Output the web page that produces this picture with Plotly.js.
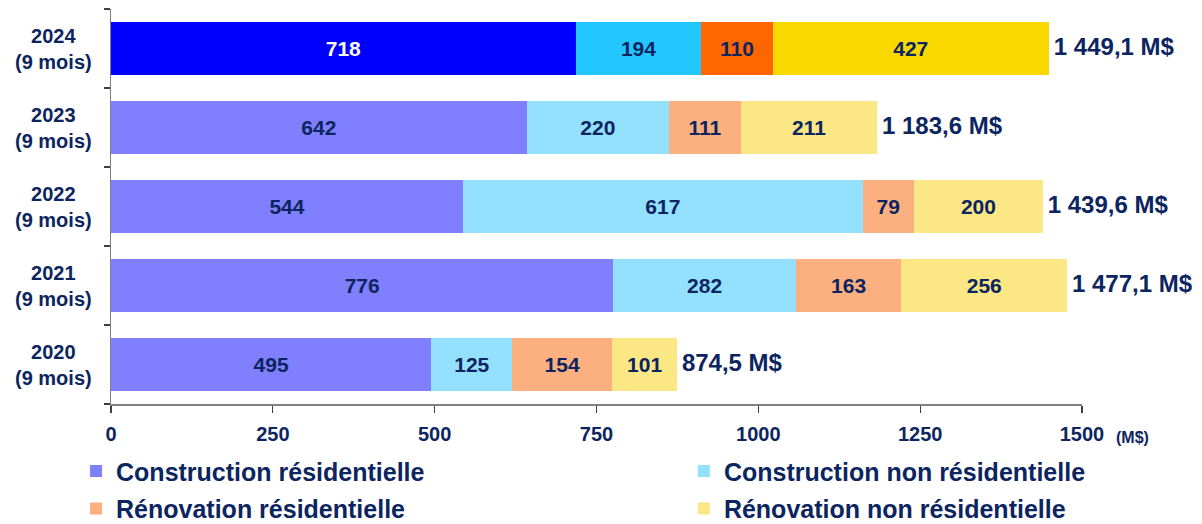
<!DOCTYPE html>
<html>
<head>
<meta charset="utf-8">
<script src="https://cdn.plot.ly/plotly-3.0.1.min.js"></script>
<style>html,body{margin:0;padding:0;background:#fff;}#chart{width:1202px;height:524px;}</style>
</head>
<body>
<div id="chart"></div>
<script>
const years = ['2020', '2021', '2022', '2023', '2024'];
const yearLabels = ['2020<br>(9 mois)', '2021<br>(9 mois)', '2022<br>(9 mois)', '2023<br>(9 mois)', '2024<br>(9 mois)'];
const constructionResidentielle = [495, 776, 544, 642, 718];
const constructionNonResidentielle = [125, 282, 617, 220, 194];
const renovationResidentielle = [154, 163, 79, 111, 110];
const renovationNonResidentielle = [101, 256, 200, 211, 427];
const totals = [874.5, 1477.1, 1439.6, 1183.6, 1449.1];
const seriesNames = ['Construction résidentielle', 'Construction non résidentielle', 'Rénovation résidentielle', 'Rénovation non résidentielle'];
const xTicks = [0, 250, 500, 750, 1000, 1250, 1500];

const NAVY = '#0C2560';
const FONT = 'Liberation Sans, Arial, sans-serif';
const lightColors = ['#8080FF', '#93E0FF', '#FDB07F', '#FBE884'];
const brightColors = ['#0000FF', '#22C7FF', '#FF6600', '#F9D800'];
const seriesValues = [constructionResidentielle, constructionNonResidentielle, renovationResidentielle, renovationNonResidentielle];

function fmtTotal(v) {
  const parts = v.toFixed(1).split('.');
  const intPart = parts[0].replace(/\B(?=(\d{3})+(?!\d))/g, ' ');
  return '\u2009' + intPart + ',' + parts[1] + ' M$';
}

const traces = seriesValues.map((vals, i) => ({
  type: 'bar',
  orientation: 'h',
  name: seriesNames[i],
  legendgroup: 'g' + i,
  y: years,
  x: vals,
  text: vals.map(String),
  textposition: 'inside',
  insidetextanchor: 'middle',
  textangle: 0,
  constraintext: 'none',
  hoverinfo: 'x+name',
  textfont: {
    family: FONT, size: 21, weight: 'bold',
    color: years.map((y, k) => (i === 0 && k === years.length - 1) ? '#FFFFFF' : NAVY)
  },
  marker: {
    color: years.map((y, k) => k === years.length - 1 ? brightColors[i] : lightColors[i]),
    line: {width: 0}
  },
  legend: (i % 2 === 0) ? 'legend' : 'legend2'
}));

traces.push({
  type: 'scatter',
  mode: 'text',
  y: years,
  x: totals,
  text: totals.map(fmtTotal),
  textposition: 'middle right',
  textfont: {family: FONT, size: 24, weight: 'bold', color: NAVY},
  showlegend: false,
  cliponaxis: false,
  hoverinfo: 'skip'
});

const annotations = years.map((y, k) => ({
  xref: 'paper', yref: 'y',
  x: -0.0597, y: k,
  xanchor: 'center', yanchor: 'middle',
  align: 'center',
  showarrow: false,
  text: yearLabels[k],
  font: {family: FONT, size: 20, weight: 'bold', color: NAVY}
}));
annotations.push({
  xref: 'paper', yref: 'paper',
  x: 1.052, y: -0.085,
  xanchor: 'center', yanchor: 'middle',
  showarrow: false,
  text: '(M$)',
  font: {family: FONT, size: 16, weight: 'bold', color: NAVY}
});

const legendCommon = {
  orientation: 'v',
  traceorder: 'grouped',
  tracegroupgap: 2,
  xanchor: 'left',
  yanchor: 'top',
  y: -0.112,
  bgcolor: 'rgba(0,0,0,0)',
  font: {family: FONT, size: 25, weight: 'bold', color: NAVY}
};

const layout = {
  width: 1202,
  height: 524,
  margin: {l: 111, r: 120, t: 9, b: 120, autoexpand: false},
  paper_bgcolor: '#FFFFFF',
  plot_bgcolor: '#FFFFFF',
  barmode: 'stack',
  bargap: 0.32,
  showlegend: true,
  xaxis: {
    range: [0, 1500],
    tickvals: xTicks,
    ticktext: xTicks.map(String),
    showgrid: false,
    zeroline: false,
    showline: true,
    linecolor: '#808080',
    linewidth: 1.5,
    ticks: 'outside',
    ticklen: 7,
    tickwidth: 1.2,
    tickcolor: '#404040',
    tickfont: {family: FONT, size: 20, weight: 'bold', color: NAVY},
    ticklabelstandoff: 4,
    automargin: false,
    fixedrange: true
  },
  yaxis: {
    type: 'category',
    categoryorder: 'array',
    categoryarray: years,
    range: [-0.5, 4.5],
    showticklabels: false,
    showgrid: false,
    zeroline: false,
    showline: true,
    linecolor: '#808080',
    linewidth: 1.5,
    ticks: 'outside',
    tickson: 'boundaries',
    ticklen: 6,
    tickwidth: 1.2,
    tickcolor: '#404040',
    automargin: false,
    fixedrange: true
  },
  legend: Object.assign({}, legendCommon, {x: -0.036}),
  legend2: Object.assign({}, legendCommon, {x: 0.59}),
  annotations: annotations
};

Plotly.newPlot('chart', traces, layout, {displayModeBar: false, staticPlot: true});
</script>
</body>
</html>
